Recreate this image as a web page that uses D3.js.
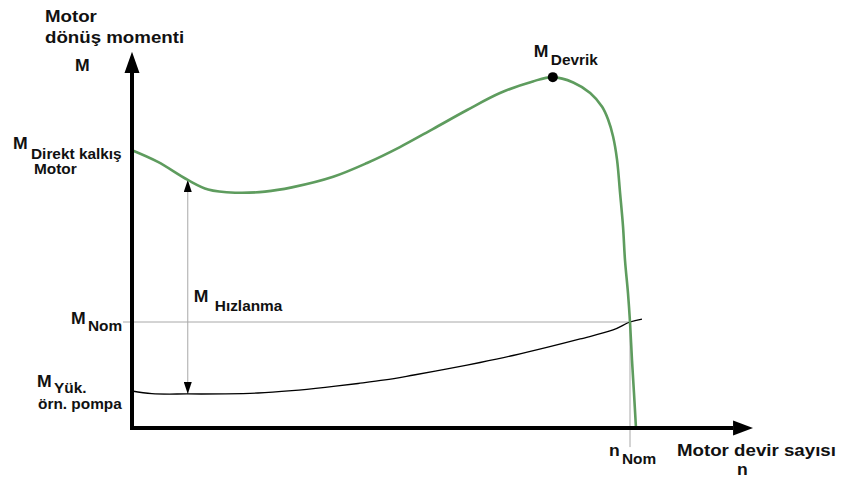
<!DOCTYPE html>
<html>
<head>
<meta charset="utf-8">
<script src="https://cdn.jsdelivr.net/npm/d3@7"></script>
<style>
  body { margin: 0; background: #fff; }
  text { font-family: "Liberation Sans", Arial, sans-serif; font-weight: bold; fill: #111; }
</style>
</head>
<body>
<svg id="chart"></svg>
<script>
// speed in % of nominal speed, torque in % of nominal torque
const motorSpeed  = [0, 5.2, 11.2, 15.3, 20.7, 26.7, 32.1, 40.4, 47.2, 53.8, 60.4, 67.3, 73.9, 80.5, 84.5, 88.6, 92.0, 94.4, 95.6, 96.6, 97.4, 98.0, 98.6, 99.0, 99.6, 100, 100.4, 100.8, 101.2];
const motorTorque = [262, 251, 234, 225, 222, 223, 227, 237, 250, 265, 282, 300, 316, 327, 331, 326, 316, 303, 291, 275, 253, 222, 190, 158, 127, 100, 64, 33, 0];
const loadSpeed  = [0, 4.0, 11.2, 18.7, 25.3, 32.1, 38.8, 45.4, 50.8, 56.6, 63.3, 69.9, 76.5, 83.3, 90.0, 96.6, 100, 102.4];
const loadTorque = [34.9, 32.4, 32.1, 32.2, 33.0, 35.3, 38.4, 42.0, 45.3, 50.0, 55.7, 61.8, 68.4, 76.0, 84.0, 92.5, 100, 102.8];

const nNom = 100;
const mNom = 100;
const breakdown = { speed: 84.5, torque: 331 };
const accelSpeed = 11.2;

class TorqueChart {

    constructor(_config) {
        this.config = {
            parentElement: _config.parentElement,
            containerWidth: 842,
            containerHeight: 480,
            origin: { x: 132, y: 428 },
            pxPerSpeed: 4.98,
            pxPerTorque: 1.06,
            stretch: 1.1,
            green: '#5e9c5e',
            grey: '#a8a8a8'
        };
        this.initVis();
    }

    initVis() {
        let vis = this;
        const c = vis.config;

        vis.svg = d3.select(c.parentElement)
            .attr('width', c.containerWidth)
            .attr('height', c.containerHeight);

        vis.xScale = d3.scaleLinear()
            .domain([0, 100])
            .range([c.origin.x, c.origin.x + 100 * c.pxPerSpeed]);

        vis.yScale = d3.scaleLinear()
            .domain([0, 100])
            .range([c.origin.y, c.origin.y - 100 * c.pxPerTorque]);

        const defs = vis.svg.append('defs');
        ['start', 'end'].forEach(id => {
            defs.append('marker')
                .attr('id', 'arrow-' + id)
                .attr('viewBox', '0 0 12 8')
                .attr('refX', 12).attr('refY', 4)
                .attr('markerWidth', 12).attr('markerHeight', 8)
                .attr('markerUnits', 'userSpaceOnUse')
                .attr('orient', 'auto-start-reverse')
                .append('path')
                .attr('d', 'M0,0 L12,4 L0,8 Z')
                .attr('fill', '#000');
        });

        vis.chart = vis.svg.append('g');
        vis.renderVis();
    }

    label(x, y, txt, size) {
        let vis = this;
        return vis.svg.append('text')
            .attr('transform', `translate(${x},${y}) scale(${vis.config.stretch},1)`)
            .attr('font-size', size)
            .text(txt);
    }

    renderVis() {
        let vis = this;
        const c = vis.config;
        const x = vis.xScale, y = vis.yScale;

        // reference lines for nominal point
        vis.chart.append('line')
            .attr('x1', x(-1.8)).attr('x2', x(nNom))
            .attr('y1', y(mNom)).attr('y2', y(mNom))
            .attr('stroke', c.grey).attr('stroke-width', 1);

        vis.chart.append('line')
            .attr('x1', x(nNom)).attr('x2', x(nNom))
            .attr('y1', y(mNom)).attr('y2', y(-18))
            .attr('stroke', c.grey).attr('stroke-width', 1);

        // acceleration torque arrow
        const motorAt = d3.scaleLinear().domain(motorSpeed.slice(0, 14)).range(motorTorque.slice(0, 14));
        const loadAt = d3.scaleLinear().domain(loadSpeed.slice(0, 8)).range(loadTorque.slice(0, 8));
        vis.chart.append('line')
            .attr('x1', x(accelSpeed)).attr('x2', x(accelSpeed))
            .attr('y1', y(motorAt(accelSpeed))).attr('y2', y(loadAt(accelSpeed)))
            .attr('stroke', c.grey).attr('stroke-width', 1)
            .attr('marker-start', 'url(#arrow-start)')
            .attr('marker-end', 'url(#arrow-end)');

        const line = d3.line()
            .x(d => x(d[0]))
            .y(d => y(d[1]))
            .curve(d3.curveCatmullRom.alpha(0.5));

        vis.chart.append('path')
            .datum(loadSpeed.map((s, i) => [s, loadTorque[i]]))
            .attr('d', line)
            .attr('fill', 'none')
            .attr('stroke', '#000')
            .attr('stroke-width', 1.3);

        vis.chart.append('path')
            .datum(motorSpeed.map((s, i) => [s, motorTorque[i]]))
            .attr('d', line)
            .attr('fill', 'none')
            .attr('stroke', c.green)
            .attr('stroke-width', 2.6);

        vis.chart.append('circle')
            .attr('cx', x(breakdown.speed))
            .attr('cy', y(breakdown.torque))
            .attr('r', 5)
            .attr('fill', '#000');

        // axes with arrow heads
        const yTop = 355, yBase = 335, xTip = 124.7, xBase = 120.7;
        vis.chart.append('line')
            .attr('x1', x(0)).attr('x2', x(0))
            .attr('y1', y(0) + 2).attr('y2', y(yBase))
            .attr('stroke', '#000').attr('stroke-width', 4);
        vis.chart.append('path')
            .attr('d', `M${x(0) - 7.5},${y(yBase)} L${x(0)},${y(yTop)} L${x(0) + 7.5},${y(yBase)} Z`)
            .attr('fill', '#000');

        vis.chart.append('line')
            .attr('x1', x(0) - 2).attr('x2', x(xBase))
            .attr('y1', y(0)).attr('y2', y(0))
            .attr('stroke', '#000').attr('stroke-width', 4);
        vis.chart.append('path')
            .attr('d', `M${x(xBase)},${y(0) - 7.5} L${x(xTip)},${y(0)} L${x(xBase)},${y(0) + 7.5} Z`)
            .attr('fill', '#000');

        // titles and annotations
        vis.label(45, 22, 'Motor', 17);
        vis.label(45, 43, 'dönüş momenti', 17);
        vis.label(75, 71, 'M', 16);

        vis.label(13, 149, 'M', 16);
        vis.label(31, 159, 'Direkt kalkış', 14);
        vis.label(34, 174, 'Motor', 14);

        vis.label(71, y(mNom) + 2, 'M', 16);
        vis.label(88, y(mNom) + 9, 'Nom', 14);

        vis.label(x(accelSpeed) + 6, 302, 'M', 16);
        vis.label(x(accelSpeed) + 27, 311, 'Hızlanma', 14);

        vis.label(37, 387, 'M', 16);
        vis.label(54, 393, 'Yük.', 14);
        vis.label(38, 409, 'örn. pompa', 14);

        vis.label(x(breakdown.speed) - 19, 57, 'M', 16);
        vis.label(x(breakdown.speed) - 2, 65, 'Devrik', 14);

        vis.label(x(nNom) - 21, 456, 'n', 16);
        vis.label(x(nNom) - 8, 464, 'Nom', 14);

        vis.label(677, 456, 'Motor devir sayısı', 17);
        vis.label(737, 475, 'n', 16);
    }
}

const chart = new TorqueChart({ parentElement: '#chart' });
</script>
</body>
</html>
